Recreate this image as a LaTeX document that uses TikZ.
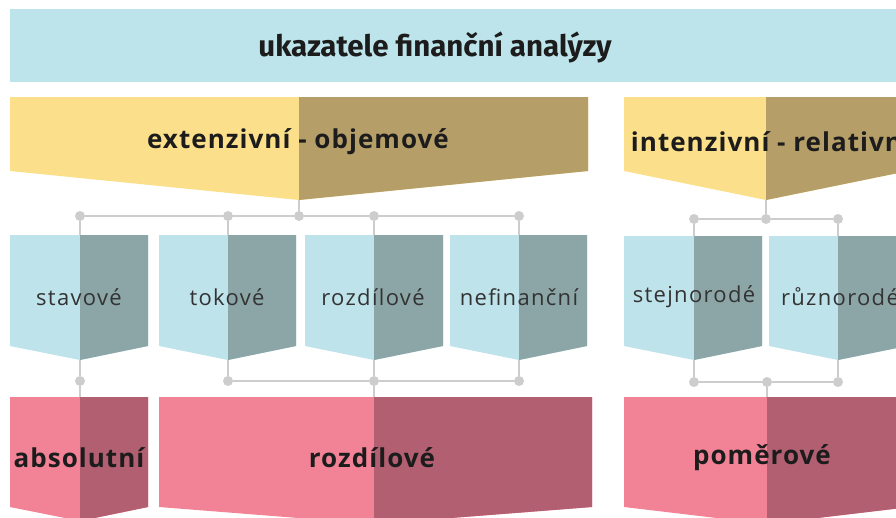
\documentclass[tikz,border=0pt]{standalone}
\usepackage{fontspec}
\setmainfont{Open Sans}
\newfontfamily\bannerfont{Fira Sans}
\newfontfamily\headfont{Open Sans}[LetterSpace=4]
\newfontfamily\tagfont{Open Sans}[LetterSpace=6]
\usetikzlibrary{positioning}

\definecolor{bannerblue}{HTML}{BEE4EB}
\definecolor{yellowlt}{HTML}{FBDF8A}
\definecolor{yellowdk}{HTML}{B59E68}
\definecolor{bluelt}{HTML}{BEE3EA}
\definecolor{bluedk}{HTML}{8CA6A7}
\definecolor{pinklt}{HTML}{F28396}
\definecolor{pinkdk}{HTML}{B35F72}
\definecolor{wiregray}{HTML}{CDCDCD}
\definecolor{inkdark}{HTML}{1C1C1C}
\definecolor{inkgray}{HTML}{333333}

% two-tone pennant: name, left, split, right, top, side, tip, light, dark
\newcommand{\pennant}[9]{%
  \fill[#8] (#2,#5) -- (#4,#5) -- (#4,#6) -- (#3,#7) -- (#2,#6) -- cycle;
  \fill[#9] (#3,#5) -- (#4,#5) -- (#4,#6) -- (#3,#7) -- cycle;
  \coordinate (#1-top) at (#3,#5);
  \coordinate (#1-tip) at (#3,#7);}

\tikzset{
  wire/.style={draw=wiregray, line width=2pt},
  joint/.style={circle, fill=wiregray, inner sep=0pt, minimum size=10pt},
  titlelabel/.style={font=\bannerfont\bfseries\fontsize{29.5}{34}\selectfont, text=inkdark},
  headlabel/.style={font=\headfont\bfseries\fontsize{26}{30}\selectfont, text=inkdark},
  taglabel/.style={font=\tagfont\fontsize{22}{26}\selectfont, text=inkgray},
  footlabel/.style={font=\headfont\bfseries\fontsize{26}{30}\selectfont, text=inkdark}
}

\begin{document}
\begin{tikzpicture}[x=1pt,y=-1pt]
  \useasboundingbox (0,0) rectangle (896,517);
  \clip (0,0) rectangle (896,517);

  % title bar
  \fill[bannerblue] (10,9) rectangle (900,82);
  \node[titlelabel] (title) at (435,47) {ukazatele finanční analýzy};

  % second row
  \pennant{ext}{10}{299}{588}{97}{171}{200}{yellowlt}{yellowdk}
  \pennant{int}{624}{766}{908}{97}{171}{200}{yellowlt}{yellowdk}
  \node[headlabel] (extlabel) at (298,142) {extenzivní - objemové};
  \node[headlabel] (intlabel) at (771,142) {intenzivní - relativní};

  % third row
  \pennant{stav}{10}{80}{148}{235}{346}{360}{bluelt}{bluedk}
  \pennant{tok}{159}{228}{296}{235}{346}{360}{bluelt}{bluedk}
  \pennant{rozd}{305}{374}{443}{235}{346}{360}{bluelt}{bluedk}
  \pennant{nefin}{450}{519}{587}{235}{346}{360}{bluelt}{bluedk}
  \pennant{stej}{624}{694}{762}{236}{346}{360}{bluelt}{bluedk}
  \pennant{ruz}{769}{838}{907}{236}{346}{360}{bluelt}{bluedk}
  \node[taglabel] (stavlabel) at (79,297) {stavové};
  \node[taglabel] (toklabel) at (227,297) {tokové};
  \node[taglabel] (rozdlabel) at (373,297) {rozdílové};
  \node[taglabel] (nefinlabel) at (519,297) {nefinanční};
  \node[taglabel] (stejlabel) at (694,297) {stejnorodé};
  \node[taglabel] (ruzlabel) at (840,297) {různorodé};

  % bottom row
  \pennant{abs}{10}{80}{148}{397}{507}{521}{pinklt}{pinkdk}
  \pennant{rozb}{159}{374}{592}{397}{507}{524}{pinklt}{pinkdk}
  \pennant{pom}{624}{767}{910}{397}{507}{524}{pinklt}{pinkdk}
  \node[footlabel] (abslabel) at (79,458) {absolutní};
  \node[footlabel] (rozblabel) at (372,458) {rozdílové};
  \node[footlabel] (pomlabel) at (762,458) {poměrové};

  % joints
  \node[joint] (a1) at (80,216) {};
  \node[joint] (a2) at (228,216) {};
  \node[joint] (a0) at (299,216) {};
  \node[joint] (a3) at (374,216) {};
  \node[joint] (a4) at (519,216) {};
  \node[joint] (c1) at (694,219) {};
  \node[joint] (c0) at (766,219) {};
  \node[joint] (c2) at (838,219) {};
  \node[joint] (b1) at (80,381) {};
  \node[joint] (b2) at (228,381) {};
  \node[joint] (b3) at (374,381) {};
  \node[joint] (b4) at (519,381) {};
  \node[joint] (d1) at (694,382) {};
  \node[joint] (d0) at (767,382) {};
  \node[joint] (d2) at (838,382) {};

  % wires, upper
  \draw[wire] (ext-tip) -- (a0);
  \draw[wire] (a1) -- (a2) -- (a0) -- (a3) -- (a4);
  \draw[wire] (a1) -- (stav-top);
  \draw[wire] (a2) -- (tok-top);
  \draw[wire] (a3) -- (rozd-top);
  \draw[wire] (a4) -- (nefin-top);
  \draw[wire] (int-tip) -- (c0);
  \draw[wire] (c1) -- (c0) -- (c2);
  \draw[wire] (c1) -- (stej-top);
  \draw[wire] (c2) -- (ruz-top);

  % wires, lower
  \draw[wire] (stav-tip) -- (b1) -- (abs-top);
  \draw[wire] (tok-tip) -- (b2);
  \draw[wire] (rozd-tip) -- (b3) -- (rozb-top);
  \draw[wire] (nefin-tip) -- (b4);
  \draw[wire] (b2) -- (b3) -- (b4);
  \draw[wire] (stej-tip) -- (d1);
  \draw[wire] (ruz-tip) -- (d2);
  \draw[wire] (d1) -- (d0) -- (d2);
  \draw[wire] (d0) -- (pom-top);
\end{tikzpicture}
\end{document}
